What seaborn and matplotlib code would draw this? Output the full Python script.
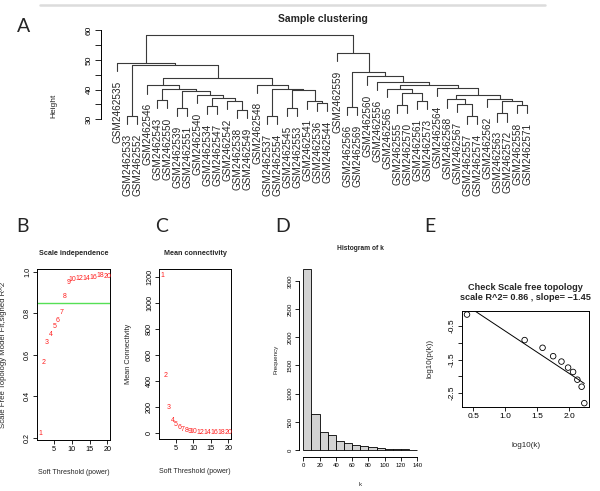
import numpy as np
import pandas as pd
import matplotlib
matplotlib.use("Agg")
import matplotlib.pyplot as plt
import seaborn as sns
from matplotlib.lines import Line2D

# ---- data ----
# sample dendrogram: leaves in display order, merges like R's hclust$merge
# (negative = leaf number, positive = earlier merge row), with merge heights
sample_labels = [
    "GSM2462535", "GSM2462533", "GSM2462552", "GSM2462546", "GSM2462543",
    "GSM2462550", "GSM2462539", "GSM2462551", "GSM2462540", "GSM2462534",
    "GSM2462547", "GSM2462542", "GSM2462538", "GSM2462549", "GSM2462548",
    "GSM2462537", "GSM2462554", "GSM2462545", "GSM2462553", "GSM2462541",
    "GSM2462536", "GSM2462544", "GSM2462559", "GSM2462566", "GSM2462569",
    "GSM2462560", "GSM2462556", "GSM2462565", "GSM2462555", "GSM2462570",
    "GSM2462561", "GSM2462573", "GSM2462564", "GSM2462568", "GSM2462567",
    "GSM2462557", "GSM2462574", "GSM2462562", "GSM2462563", "GSM2462572",
    "GSM2462558", "GSM2462571",
]
merge_left = [-2, -5, -7, -10, -13, -12, 4, -9, 3, 2, -4, -16, -18, -21, -20, 13, 12,
              -15, 11, 1, -1, -24, -29, -31, 23, -28, -36, -35, -34, -39, -41, 30,
              -38, 29, -33, 26, -27, -26, 22, -23, 21]
merge_right = [-3, -6, -8, -11, -14, 5, 6, 7, 8, 9, 10, -17, -19, -22, 14, 15, 16,
               17, 18, 19, 20, -25, -30, -32, 24, 25, -37, 27, 28, -40, -42, 31,
               32, 33, 34, 35, 36, 37, 38, 39, 40]
merge_height = [31.1, 36.4, 33.9, 34.4, 33.3, 36.3, 37.2, 38.3, 39.4, 40.3, 41.4,
                31.1, 33.9, 35.6, 36.1, 39.7, 40.3, 41.7, 43.9, 48.1, 48.9,
                34.2, 34.8, 36.3, 38.9, 40.2, 31.1, 35.2, 36.7, 32.0, 34.7, 36.1,
                37.0, 38.3, 40.6, 41.7, 42.6, 44.4, 45.9, 52.2, 58.4]

# soft threshold scan
powers = [1, 2, 3, 4, 5, 6, 7, 8, 9, 10, 12, 14, 16, 18, 20]
sft_r2 = [0.219, 0.561, 0.660, 0.697, 0.735, 0.764, 0.803, 0.880, 0.948, 0.961,
          0.965, 0.969, 0.972, 0.982, 0.977]
mean_k = [1213, 442, 198, 98, 64, 38, 26, 18, 13, 9.5, 5, 3, 2, 1.3, 0.9]

# histogram of connectivity k
k_edges = [0, 10, 20, 30, 40, 50, 60, 70, 80, 90, 100, 110, 120, 130, 140]
k_counts = [3213, 639, 320, 266, 160, 124, 89, 65, 59, 41, 24, 22, 12, 6]

# scale free topology check
log_k = [0.402, 1.305, 1.586, 1.752, 1.882, 1.986, 2.064, 2.131, 2.198, 2.24]
log_pk = [-0.158, -0.92, -1.149, -1.40, -1.56, -1.74, -1.87, -2.10, -2.31, -2.80]

# ---- style ----
sns.set_style("ticks")
plt.rcParams['font.family'] = ['Liberation Sans', 'DejaVu Sans']
plt.rcParams['axes.linewidth'] = 0.7

W, H = 600, 491
fig = plt.figure(figsize=(6, 4.91), dpi=100)


def box(l, t, r, b):
    return [l / W, 1 - b / H, (r - l) / W, (b - t) / H]


def r_lim(vals):
    # R style 4% padding
    lo, hi = min(vals), max(vals)
    d = (hi - lo) * 0.04
    return lo - d, hi + d


def r_axes(ax, fs):
    for s in ax.spines.values():
        s.set_color('black')
        s.set_linewidth(0.7)
    ax.tick_params(direction='out', length=3, width=0.6, pad=1.5,
                   labelsize=fs, colors='black')


# top separator + panel letters
fig.add_artist(Line2D([40 / W, 545 / W], [1 - 5 / H, 1 - 5 / H],
                      color='#dcdcdc', lw=1.8))
for letter, (lx, ly) in zip("ABCDE", [(24, 26), (23, 226), (162, 226),
                                       (283, 226), (430, 226)]):
    fig.text(lx / W, 1 - ly / H, letter, fontsize=14, family='Lato',
             ha='center', va='center')

# ---- A: sample clustering ----
axA = fig.add_axes(box(100.7, 28.5, 543.7, 126.8))
n = len(sample_labels)
hang = 0.1 * (max(merge_height) - min(merge_height))
node_x = {}
for k, (a, b, h) in enumerate(zip(merge_left, merge_right, merge_height), start=1):
    xs = []
    for c in (a, b):
        if c < 0:
            x0 = -c
            axA.plot([x0, x0], [h, h - hang], color='#3a3a3a', lw=0.8)
            axA.annotate(sample_labels[x0 - 1], (x0, h - hang), xytext=(0, -7),
                         textcoords='offset points', rotation=90, ha='center',
                         va='top', fontsize=7.2, annotation_clip=False)
        else:
            x0, h0 = node_x[c]
            axA.plot([x0, x0], [h, h0], color='#3a3a3a', lw=0.8)
        xs.append(x0)
    axA.plot(xs, [h, h], color='#3a3a3a', lw=0.8)
    node_x[k] = (np.mean(xs), h)

axA.set_xlim(1 - 0.04 * (n - 1), n + 0.04 * (n - 1))
axA.set_ylim(27.5, 60.5)
for s in ['top', 'right', 'bottom']:
    axA.spines[s].set_visible(False)
axA.spines['left'].set_bounds(30, 60)
r_axes(axA, 6)
axA.set_xticks([])
axA.set_yticks([30, 35, 40, 45, 50, 55, 60])
axA.set_yticklabels(['30', '', '40', '', '50', '', '60'], rotation=90, va='center')
axA.tick_params(axis='y', length=4, pad=2)
axA.set_ylabel('Height', fontsize=6)
axA.yaxis.set_label_coords(-0.097, 0.21)
fig.text(323 / W, 1 - 19 / H, 'Sample clustering', fontsize=7.5,
         fontweight='bold', ha='center', va='center')

# ---- B: scale independence ----
axB = fig.add_axes(box(37.3, 269, 110, 440))
axB.set_xlim(r_lim(powers))
axB.set_ylim(r_lim(sft_r2))
for p, v in zip(powers, sft_r2):
    axB.text(p, v, str(p), color='#ff2020', fontsize=5, ha='center', va='center')
axB.axhline(0.85, color='#55e055', lw=1)
r_axes(axB, 5.2)
axB.set_xticks([5, 10, 15, 20])
axB.set_yticks([0.2, 0.4, 0.6, 0.8, 1.0])
axB.set_yticklabels(['0.2', '0.4', '0.6', '0.8', '1.0'], rotation=90, va='center')
axB.set_xlabel('Soft Threshold (power)', fontsize=5)
axB.xaxis.set_label_coords(0.5, -0.17)
axB.set_ylabel('Scale Free Topology Model Fit,signed R^2', fontsize=5.6)
axB.yaxis.set_label_coords(-0.42, 0.5)
axB.text(0.5, 1.09, 'Scale independence', transform=axB.transAxes,
         fontsize=5.2, fontweight='bold', ha='center', va='center')

# ---- C: mean connectivity ----
axC = fig.add_axes(box(159.3, 269, 231, 439))
axC.set_xlim(r_lim(powers))
axC.set_ylim(r_lim(mean_k))
for p, v in zip(powers, mean_k):
    axC.text(p, v, str(p), color='#ff2020', fontsize=5, ha='center', va='center')
r_axes(axC, 5.2)
axC.set_xticks([5, 10, 15, 20])
axC.set_yticks([0, 200, 400, 600, 800, 1000, 1200])
axC.set_yticklabels(['0', '200', '400', '600', '800', '1000', '1200'],
                    rotation=90, va='center')
axC.set_xlabel('Soft Threshold (power)', fontsize=5)
axC.xaxis.set_label_coords(0.5, -0.17)
axC.set_ylabel('Mean Connectivity', fontsize=5.3)
axC.yaxis.set_label_coords(-0.385, 0.5)
axC.text(0.5, 1.09, 'Mean connectivity', transform=axC.transAxes,
         fontsize=5.2, fontweight='bold', ha='center', va='center')

# ---- D: histogram of k ----
axD = fig.add_axes(box(298.7, 261.8, 421.9, 457.2))
mids = [(a + b) / 2 for a, b in zip(k_edges[:-1], k_edges[1:])]
sns.histplot(x=mids, weights=k_counts, bins=k_edges, color='#d3d3d3',
             edgecolor='black', linewidth=0.6, alpha=1, ax=axD)
axD.set_xlim(r_lim(k_edges))
axD.set_ylim(r_lim([0] + k_counts))
for s in ['top', 'right']:
    axD.spines[s].set_visible(False)
r_axes(axD, 4.3)
axD.spines['left'].set_bounds(0, 3000)
axD.spines['bottom'].set_bounds(0, 140)
axD.set_xticks(range(0, 141, 20))
axD.set_yticks(range(0, 3001, 500))
axD.set_yticklabels([str(v) for v in range(0, 3001, 500)], rotation=90, va='center')
axD.set_xlabel('k', fontsize=4.5)
axD.xaxis.set_label_coords(0.503, -0.128)
axD.set_ylabel('Frequency', fontsize=4.5)
axD.yaxis.set_label_coords(-0.166, 0.5)
axD.text(0.5, 1.069, 'Histogram of k', transform=axD.transAxes,
         fontsize=4.8, fontweight='bold', ha='center', va='center')

# ---- E: scale free topology ----
axE = fig.add_axes(box(462.3, 311, 589, 406.7))
sns.scatterplot(x=log_k, y=log_pk, ax=axE, marker='o', s=16,
                facecolor='none', edgecolor='black', linewidth=0.6)
sns.regplot(x=log_k, y=log_pk, ax=axE, scatter=False, ci=None, color='black',
            line_kws={'lw': 0.7})
axE.set_xlim(r_lim(log_k))
axE.set_ylim(r_lim(log_pk))
r_axes(axE, 6)
axE.set_xticks([0.5, 1.0, 1.5, 2.0])
axE.set_xticklabels(['0.5', '1.0', '1.5', '2.0'])
axE.set_yticks([-2.5, -2.0, -1.5, -1.0, -0.5])
axE.set_yticklabels(['-2.5', '', '-1.5', '', '-0.5'], rotation=90, va='center')
axE.set_xlabel('log10(k)', fontsize=5.8)
axE.xaxis.set_label_coords(0.5, -0.366)
axE.set_ylabel('log10(p(k))', fontsize=5.8)
axE.yaxis.set_label_coords(-0.229, 0.5)
axE.text(0.5, 1.196, 'Check Scale free topology\nscale R^2= 0.86 , slope= \u22121.45',
         transform=axE.transAxes, fontsize=6.6, fontweight='bold',
         ha='center', va='center', linespacing=1.1)

fig.savefig('out.png', dpi=100)
